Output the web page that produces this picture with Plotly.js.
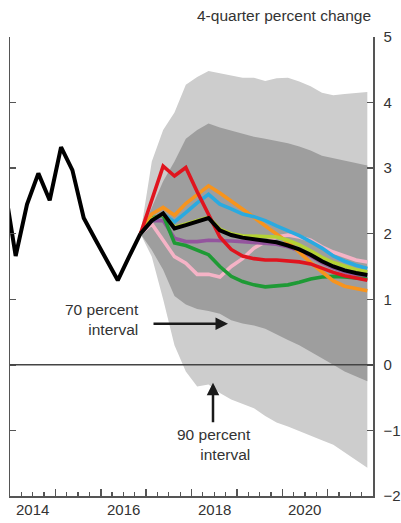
<!DOCTYPE html>
<html>
<head>
<meta charset="utf-8">
<script src="https://cdn.plot.ly/plotly-3.0.1.min.js"></script>
<style>html,body{margin:0;padding:0;background:#fff;}#chart{width:401px;height:523px;}</style>
</head>
<body>
<div id="chart"></div>
<script>
// ---- Data ----
const histQuarters = ['2013Q4','2014Q1','2014Q2','2014Q3','2014Q4','2015Q1','2015Q2','2015Q3','2015Q4','2016Q1','2016Q2','2016Q3','2016Q4'];
const histInflation = [2.75,1.66,2.45,2.92,2.51,3.32,2.97,2.24,1.92,1.60,1.29,1.65,2.00];

const fcQuarters = ['2016Q4','2017Q1','2017Q2','2017Q3','2017Q4','2018Q1','2018Q2','2018Q3','2018Q4','2019Q1','2019Q2','2019Q3','2019Q4','2020Q1','2020Q2','2020Q3','2020Q4','2021Q1','2021Q2','2021Q3','2021Q4'];
const fcBlack  = [2.0,2.20,2.31,2.08,2.13,2.18,2.24,2.05,1.98,1.94,1.92,1.90,1.87,1.82,1.76,1.68,1.58,1.50,1.44,1.40,1.37];
const fcRed    = [2.0,2.50,3.03,2.88,3.01,2.64,2.30,1.95,1.76,1.66,1.62,1.60,1.60,1.59,1.57,1.54,1.47,1.41,1.36,1.32,1.29];
const fcOrange = [2.0,2.30,2.40,2.28,2.46,2.60,2.73,2.62,2.50,2.38,2.25,2.12,2.00,1.87,1.72,1.56,1.42,1.28,1.20,1.16,1.13];
const fcCyan   = [2.0,2.20,2.30,2.18,2.32,2.47,2.60,2.45,2.38,2.30,2.26,2.20,2.12,2.05,1.97,1.88,1.78,1.66,1.58,1.52,1.47];
const fcGreen  = [2.0,2.24,2.28,1.86,1.82,1.75,1.68,1.50,1.35,1.27,1.22,1.19,1.20,1.22,1.26,1.31,1.34,1.35,1.34,1.32,1.31];
const fcPurple = [2.0,2.20,2.20,1.93,1.88,1.88,1.90,1.90,1.89,1.88,1.87,1.86,1.84,1.80,1.74,1.66,1.56,1.48,1.42,1.38,1.35];
const fcPink   = [2.0,2.15,1.90,1.65,1.55,1.38,1.38,1.34,1.50,1.62,1.78,1.88,1.95,1.98,1.95,1.90,1.80,1.72,1.66,1.60,1.57];
const fcLime   = [2.0,2.22,2.30,2.10,2.15,2.20,2.25,2.07,2.00,1.97,1.96,1.96,1.95,1.90,1.83,1.74,1.64,1.56,1.50,1.45,1.42];

const band90Upper = [2.0,3.10,3.58,3.85,4.27,4.39,4.48,4.45,4.41,4.38,4.38,4.33,4.37,4.38,4.32,4.25,4.15,4.11,4.13,4.14,4.16];
const band90Lower = [2.0,1.65,1.00,0.30,-0.10,-0.33,-0.30,-0.43,-0.53,-0.60,-0.66,-0.78,-0.88,-0.94,-1.00,-1.08,-1.15,-1.22,-1.33,-1.45,-1.57];
const band70Upper = [2.0,2.40,2.80,3.10,3.45,3.58,3.68,3.62,3.57,3.52,3.48,3.45,3.42,3.38,3.33,3.27,3.19,3.15,3.12,3.08,3.04];
const band70Lower = [2.0,1.75,1.45,1.05,0.92,0.85,0.82,0.78,0.68,0.63,0.60,0.55,0.47,0.38,0.30,0.20,0.10,0.00,-0.10,-0.18,-0.25];

const yearTickLabels = ['2014','2016','2018','2020'];
const yTickValues = [-2,-1,0,1,2,3,4,5];

// ---- helpers ----
function qPos(q){ const y = parseInt(q.slice(0,4),10); const n = parseInt(q.slice(5),10); return y + (n-1)*0.25 + 0.125; }
const histX = histQuarters.map(qPos);
const fcX = fcQuarters.map(qPos);
function bandPoly(upper, lower){
  return { x: fcX.concat(fcX.slice().reverse()), y: upper.concat(lower.slice().reverse()) };
}
const p90 = bandPoly(band90Upper, band90Lower);
const p70 = bandPoly(band70Upper, band70Lower);

function line(y, color, w){
  return { type:'scatter', mode:'lines', x: fcX, y: y, line:{color: color, width: w||3.6}, hoverinfo:'skip' };
}

const traces = [
  { type:'scatter', mode:'lines', x:p90.x, y:p90.y, fill:'toself', fillcolor:'#cdcdcd', line:{width:0, color:'#cdcdcd'}, hoverinfo:'skip' },
  { type:'scatter', mode:'lines', x:p70.x, y:p70.y, fill:'toself', fillcolor:'#9e9e9e', line:{width:0, color:'#9e9e9e'}, hoverinfo:'skip' },
  line(fcPink, '#f5b3c6'),
  line(fcPurple, '#94559e'),
  line(fcGreen, '#1e9a35'),
  line(fcOrange, '#f7941d'),
  line(fcCyan, '#2aaae0'),
  line(fcLime, '#b4d234'),
  line(fcRed, '#e0141e'),
  line(fcBlack, '#000000', 4),
  { type:'scatter', mode:'lines', x: histX, y: histInflation, line:{color:'#000000', width:4}, hoverinfo:'skip' }
];

const FONT = 'Liberation Sans, Arial, sans-serif';
const axisColor = '#555555';

function xp(px){ return 2014 + (px-10)/45.375; }
function yp(py){ return (365-py)/65.57; }

const yearLabelAnnotations = yearTickLabels.map(function(t){
  return { xref:'x', yref:'paper', x: parseInt(t,10)+0.5, y:0, yanchor:'top', yshift:-3, xanchor:'center',
           text:t, showarrow:false, font:{size:15, color:'#333333', family:FONT} };
});

const layout = {
  width: 401, height: 523,
  margin: {l:10, r:28, t:37, b:27, pad:0},
  paper_bgcolor:'#ffffff', plot_bgcolor:'#ffffff',
  showlegend:false, hovermode:false,
  font:{family:FONT, color:'#333333'},
  xaxis: {
    range:[2014,2022], tickmode:'linear', tick0:2014, dtick:1,
    ticks:'inside', ticklen:7, tickwidth:1.5, tickcolor:axisColor,
    showticklabels:false, showline:true, linecolor:axisColor, linewidth:1.5,
    showgrid:false, zeroline:false,
    minor:{tick0:2014, dtick:0.25, ticks:'inside', ticklen:4, tickwidth:1.2, tickcolor:axisColor, showgrid:false}
  },
  yaxis: {
    range:[-2,5], side:'right', tickmode:'array', tickvals: yTickValues,
    ticks:'inside', ticklen:6, tickwidth:1.5, tickcolor:axisColor,
    showline:true, linecolor:axisColor, linewidth:1.5, mirror:'ticks',
    showgrid:false, zeroline:false, ticklabelstandoff:6,
    tickfont:{size:15, color:'#333333', family:FONT}
  },
  shapes: [
    { type:'line', xref:'paper', x0:0, x1:1, yref:'y', y0:0, y1:0, line:{color:'#444444', width:1.5}, layer:'above' }
  ],
  annotations: [
    { xref:'paper', yref:'paper', x:1, y:1+22/459, xanchor:'right', yanchor:'middle', text:'4-quarter percent change', showarrow:false, font:{size:15.5, color:'#333333', family:FONT} },
    { xref:'x', yref:'y', x:xp(141), y:yp(320), xanchor:'right', yanchor:'middle', align:'right', text:'70 percent<br>interval', showarrow:false, font:{size:15.5, color:'#333333', family:FONT} },
    { xref:'x', yref:'y', x:xp(228), y:yp(324), axref:'x', ayref:'y', ax:xp(152), ay:yp(324), text:'', showarrow:true, arrowhead:2, arrowsize:1, arrowwidth:2.5, arrowcolor:'#1a1a1a' },
    { xref:'x', yref:'y', x:xp(253), y:yp(445), xanchor:'right', yanchor:'middle', align:'right', text:'90 percent<br>interval', showarrow:false, font:{size:15.5, color:'#333333', family:FONT} },
    { xref:'x', yref:'y', x:xp(213), y:yp(383), axref:'x', ayref:'y', ax:xp(213), ay:yp(424), text:'', showarrow:true, arrowhead:2, arrowsize:1, arrowwidth:2.5, arrowcolor:'#1a1a1a' }
  ].concat(yearLabelAnnotations)
};

Plotly.newPlot('chart', traces, layout, {displayModeBar:false, staticPlot:true});
</script>
</body>
</html>
